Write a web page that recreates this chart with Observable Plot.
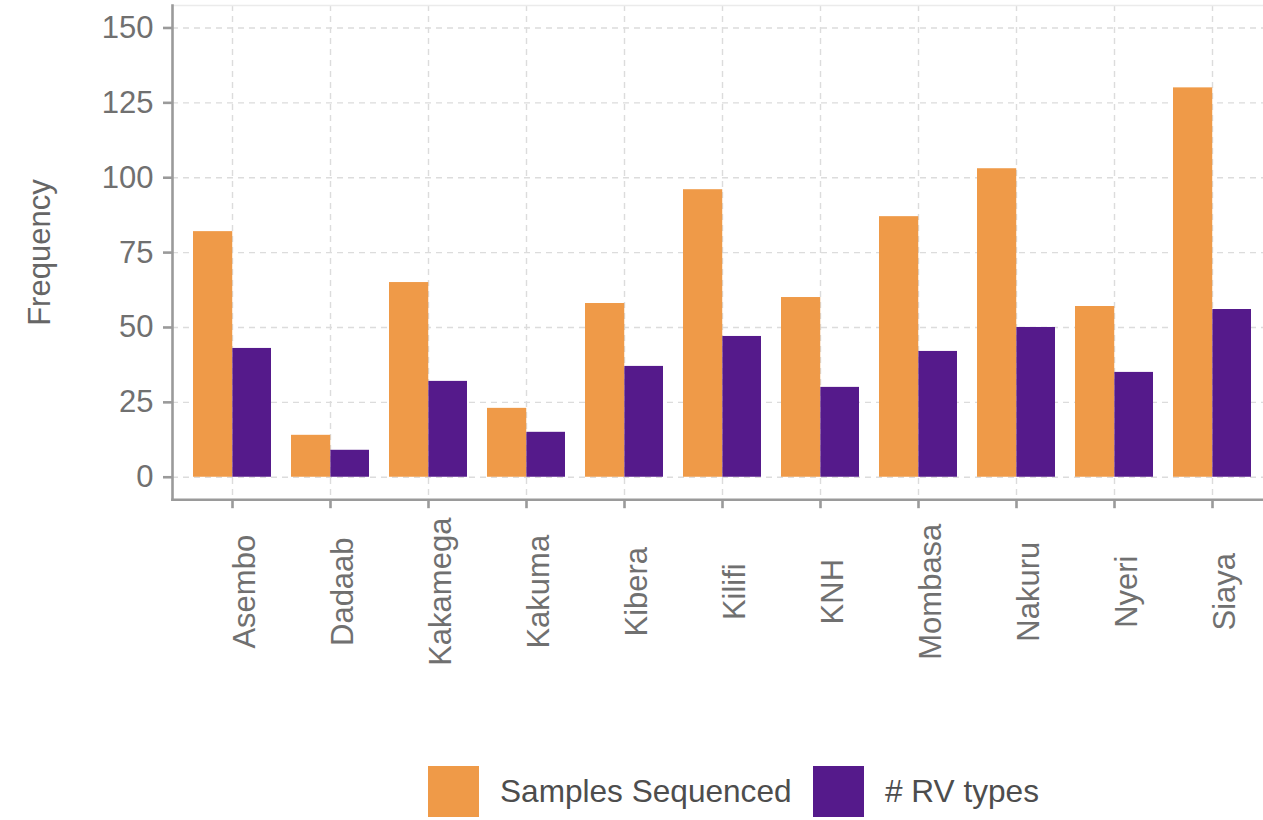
<!DOCTYPE html>
<html>
<head>
<meta charset="utf-8">
<script src="https://cdn.jsdelivr.net/npm/d3@7"></script>
<script src="https://cdn.jsdelivr.net/npm/@observablehq/plot@0.6"></script>
<style>
  html, body { margin: 0; padding: 0; background: #fff; }
  #chart svg { display: block; }
  .legend { position: relative; height: 80px; font-family: "Liberation Sans", Arial, sans-serif; font-size: 31.6px; color: #4d4d4d; }
  .legend .item { position: absolute; top: 26px; display: flex; align-items: center; height: 51px; }
  .legend .sw { width: 51px; height: 51px; margin-right: 21px; }
</style>
</head>
<body>
<div id="chart"></div>
<div class="legend" id="legend"></div>
<script>
// ---- data ----
const categories = ["Asembo", "Dadaab", "Kakamega", "Kakuma", "Kibera", "Kilifi", "KNH", "Mombasa", "Nakuru", "Nyeri", "Siaya"];
const samplesSequenced = [82, 14, 65, 23, 58, 96, 60, 87, 103, 57, 130];
const rvTypes = [43, 9, 32, 15, 37, 47, 30, 42, 50, 35, 56];
const seriesNames = ["Samples Sequenced", "# RV types"];
const seriesColors = ["#EF9A48", "#551A8B"];
const yTicks = [0, 25, 50, 75, 100, 125, 150];
const yDomain = [-7.5, 157.5];
const yTitle = "Frequency";

// ---- table ----
const rows = categories.flatMap((site, i) => [
  {site, series: seriesNames[0], value: samplesSequenced[i]},
  {site, series: seriesNames[1], value: rvTypes[i]}
]);

// ---- layout ----
const W = 1263, H = 740, ML = 172, MR = 0, MT = 5, MB = H - 499.2;
const xOpts = {type: "band", domain: categories, paddingInner: 0.2, paddingOuter: 0.1437, align: 0.659};
const half = Plot.scale({x: {...xOpts, range: [ML, W - MR]}}).bandwidth / 2;

const axisColor = "#9a9a9a";
const gridColor = "#dcdcdc";
const tickText = "#707070";
const font = "'Liberation Sans', Arial, sans-serif";
const gridStyle = {stroke: gridColor, strokeOpacity: 1, strokeWidth: 1.4, strokeDasharray: "6,5"};

const chart = Plot.plot({
  width: W, height: H,
  marginLeft: ML, marginRight: MR, marginTop: MT, marginBottom: MB,
  style: {fontFamily: font, fontSize: "31px", background: "white"},
  x: {...xOpts, label: null},
  y: {domain: yDomain, label: null},
  color: {domain: seriesNames, range: seriesColors},
  marks: [
    Plot.gridX(gridStyle),
    Plot.gridY(yTicks, gridStyle),
    Plot.frame({anchor: "top", stroke: "#ebebeb", strokeWidth: 1.5}),
    Plot.barY(rows, {filter: d => d.series === seriesNames[0], x: "site", y: "value", fill: "series", insetRight: half - 0.6}),
    Plot.barY(rows, {filter: d => d.series === seriesNames[1], x: "site", y: "value", fill: "series", insetLeft: half}),
    Plot.frame({anchor: "left", stroke: axisColor, strokeWidth: 2.6}),
    Plot.frame({anchor: "bottom", stroke: axisColor, strokeWidth: 2.6}),
    Plot.axisY(yTicks, {tickSize: 9, tickPadding: 10, stroke: axisColor, strokeWidth: 2.6, fill: tickText, fontSize: 31, label: null}),
    Plot.axisX({tickSize: 9, stroke: axisColor, strokeWidth: 2.6, fill: "none", label: null}),
    Plot.text(categories, {x: d => d, text: d => d, frameAnchor: "bottom", rotate: -90, textAnchor: "middle", lineAnchor: "top", dy: 92, fill: tickText, fontSize: 31}),
    Plot.text([yTitle], {text: d => d, frameAnchor: "left", rotate: -90, textAnchor: "middle", lineAnchor: "top", dx: -145, fill: "#666666", fontSize: 31})
  ]
});
document.getElementById("chart").appendChild(chart);

// ---- legend ----
const legend = document.getElementById("legend");
const legendLeft = [428, 813];
seriesNames.forEach((name, i) => {
  const item = document.createElement("div");
  item.className = "item";
  item.style.left = legendLeft[i] + "px";
  const sw = document.createElement("div");
  sw.className = "sw";
  sw.style.background = seriesColors[i];
  const label = document.createElement("span");
  label.textContent = name;
  item.appendChild(sw);
  item.appendChild(label);
  legend.appendChild(item);
});
</script>
</body>
</html>
